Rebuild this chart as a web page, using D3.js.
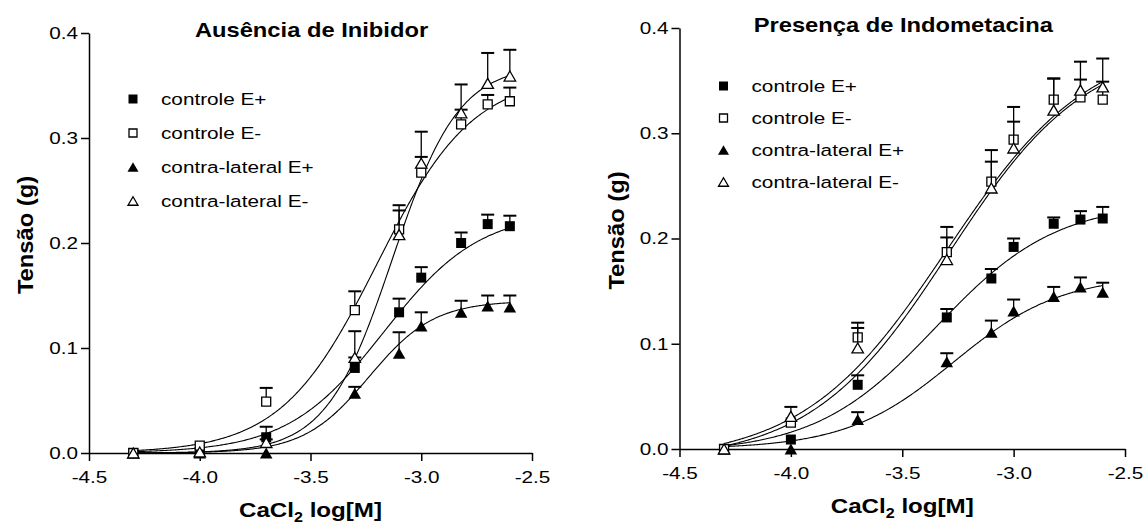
<!DOCTYPE html>
<html lang="pt">
<head>
<meta charset="UTF-8">
<script src="https://d3js.org/d3.v7.min.js"></script>
<title>CaCl2 - curvas de tensão</title>
<style>
  body { margin: 0; background: #fff; }
  svg { display: block; font-family: "Liberation Sans", Arial, sans-serif; }
  .axis path, .axis line { stroke: #000; stroke-width: 1.5; }
</style>
</head>
<body>
<svg id="chart" width="1145" height="525"></svg>
<script>
// x values: CaCl2 log[M]
const logConc = [-4.3, -4.0, -3.7, -3.3, -3.1, -3.0, -2.82, -2.7, -2.6];
const xTicks = [-4.5, -4.0, -3.5, -3.0, -2.5];
const yTicks = [0.0, 0.1, 0.2, 0.3, 0.4];
const seriesNames = ['controle E+', 'controle E-', 'contra-lateral E+', 'contra-lateral E-'];
const panelTitles = ['Ausência de Inibidor', 'Presença de Indometacina'];

// Ausência de Inibidor (mean, upper SEM)
const ausCtrlPos      = [0, 0.001, 0.015, 0.081, 0.134, 0.167, 0.200, 0.218, 0.216];
const ausCtrlPosErr   = [0, 0, 0.010, 0.010, 0.013, 0.010, 0.010, 0.009, 0.010];
const ausCtrlNeg      = [0, 0.007, 0.049, 0.136, 0.213, 0.267, 0.313, 0.332, 0.335];
const ausCtrlNegErr   = [0, 0, 0.013, 0.018, 0.018, 0.015, 0.014, 0.009, 0.013];
const ausContraPos    = [0, 0, 0, 0.057, 0.095, 0.121, 0.134, 0.140, 0.139];
const ausContraPosErr = [0, 0, 0, 0.006, 0.020, 0.013, 0.011, 0.010, 0.011];
const ausContraNeg    = [0, 0.001, 0.010, 0.091, 0.208, 0.276, 0.324, 0.352, 0.359];
const ausContraNegErr = [0, 0, 0.003, 0.025, 0.028, 0.030, 0.027, 0.029, 0.025];

// Presença de Indometacina
const indCtrlPos      = [0, 0.009, 0.061, 0.125, 0.162, 0.192, 0.214, 0.218, 0.219];
const indCtrlPosErr   = [0, 0, 0.009, 0.008, 0.009, 0.008, 0.006, 0.008, 0.011];
const indCtrlNeg      = [0, 0.025, 0.106, 0.187, 0.254, 0.294, 0.332, 0.334, 0.332];
const indCtrlNegErr   = [0, 0, 0.009, 0.014, 0.019, 0.017, 0.020, 0.017, 0.017];
const indContraPos    = [0, 0, 0.028, 0.083, 0.111, 0.131, 0.145, 0.154, 0.149];
const indContraPosErr = [0, 0, 0.007, 0.008, 0.011, 0.011, 0.009, 0.009, 0.009];
const indContraNeg    = [0, 0.031, 0.096, 0.180, 0.248, 0.286, 0.322, 0.341, 0.344];
const indContraNegErr = [0, 0.009, 0.024, 0.031, 0.036, 0.039, 0.030, 0.027, 0.027];

// sigmoidal fits: [bottom, top, logEC50, hill slope]
const ausFits = [[0, 0.23, -3.17, 2.0], [0, 0.36, -3.2, 2.0], [0, 0.145, -3.236, 2.96], [0, 0.37, -3.13, 2.9]];
const indFits = [[-0.004, 0.235, -3.35, 1.6], [-0.012, 0.39, -3.3, 1.35], [0, 0.165, -3.27, 1.8], [-0.012, 0.385, -3.29, 1.4]];

const shapes = [['square', true], ['square', false], ['triangle', true], ['triangle', false]];

const svg = d3.select('#chart');
const tickSX = 1.22;   // the original lettering is wider than Arial

const panels = [
  {title: panelTitles[0], x0: 89, x1: 532, y0: 453, y1: 33, legY: 99, legStep: 34,
   values: [ausCtrlPos, ausCtrlNeg, ausContraPos, ausContraNeg],
   errors: [ausCtrlPosErr, ausCtrlNegErr, ausContraPosErr, ausContraNegErr],
   fits: ausFits},
  {title: panelTitles[1], x0: 679.5, x1: 1125, y0: 449, y1: 28, legY: 86, legStep: 32,
   values: [indCtrlPos, indCtrlNeg, indContraPos, indContraNeg],
   errors: [indCtrlPosErr, indCtrlNegErr, indContraPosErr, indContraNegErr],
   fits: indFits}
];

function hill(f, xv) {
  return f[0] + (f[1] - f[0]) / (1 + Math.pow(10, (f[2] - xv) * f[3]));
}

function markerPath(shape, w, h) {
  if (shape === 'square') return `M${-w/2},${-h/2}H${w/2}V${h/2}H${-w/2}Z`;
  return `M0,${-h/2}L${w/2},${h/2}L${-w/2},${h/2}Z`;
}

function drawMarker(g, shape, filled, cx, cy, big) {
  let w, h;
  if (shape === 'square') { w = h = filled ? (big ? 10 : 9) : (big ? 9 : 8); }
  else { w = filled ? (big ? 12.5 : 11) : (big ? 11.5 : 10); h = filled ? (big ? 11 : 9.5) : (big ? 10 : 8.5); }
  g.append('path')
    .attr('transform', `translate(${cx},${cy})`)
    .attr('d', markerPath(shape, w, h))
    .attr('fill', filled ? '#000' : '#fff')
    .attr('stroke', filled ? 'none' : '#000')
    .attr('stroke-width', 1.3);
}

function addText(g, x, y, str, size, sx, opts = {}) {
  return g.append('text')
    .attr('transform', `translate(${x},${y})${opts.rotate ? ' rotate(-90)' : ''} scale(${sx},1)`)
    .attr('text-anchor', opts.anchor || 'start')
    .style('font-size', size + 'px')
    .style('font-weight', opts.bold ? 'bold' : 'normal')
    .text(str);
}

panels.forEach(p => {
  const g = svg.append('g');
  const x = d3.scaleLinear().domain([-4.5, -2.5]).range([p.x0, p.x1]);
  const y = d3.scaleLinear().domain([0, 0.4]).range([p.y0, p.y1]);
  const cx = (p.x0 + p.x1) / 2;

  // axes
  const xAxis = g.append('g').attr('class', 'axis')
    .attr('transform', `translate(0,${p.y0})`)
    .call(d3.axisBottom(x).tickValues(xTicks).tickFormat(d => d.toFixed(1))
      .tickSize(8).tickSizeOuter(0).tickPadding(10));
  const yAxis = g.append('g').attr('class', 'axis')
    .attr('transform', `translate(${p.x0},0)`)
    .call(d3.axisLeft(y).tickValues(yTicks).tickFormat(d => d.toFixed(1))
      .tickSize(8).tickSizeOuter(0).tickPadding(3));
  [xAxis, yAxis].forEach(a => a.attr('font-size', null).attr('font-family', null)
    .selectAll('text').style('font-size', '17px').style('fill', '#000')
    .attr('transform', `scale(${tickSX},1)`));
  yAxis.selectAll('text').attr('x', -11 / tickSX);

  // titles
  addText(g, cx + 1, p.y1 + 4, p.title, 21, 1.13, {anchor: 'middle', bold: true});
  addText(g, p.x0 - 56, (p.y0 + p.y1) / 2 - 8, 'Tensão (g)', 22, 1.08, {anchor: 'middle', bold: true, rotate: true});
  const xl = g.append('text')
    .attr('transform', `translate(${cx},${p.y0 + 64}) scale(1.15,1)`)
    .attr('text-anchor', 'middle')
    .style('font-size', '21px').style('font-weight', 'bold');
  xl.append('tspan').text('CaCl');
  xl.append('tspan').attr('dy', 5).style('font-size', '14px').text('2');
  xl.append('tspan').attr('dy', -5).text(' log[M]');

  // fitted curves
  const xs = d3.range(logConc[0], logConc[logConc.length - 1] + 0.001, 0.005);
  const line = d3.line().x(d => x(d[0])).y(d => y(d[1]));
  p.fits.forEach(f => {
    g.append('path')
      .attr('d', line(xs.map(v => [v, hill(f, v)])))
      .attr('fill', 'none').attr('stroke', '#000').attr('stroke-width', 1.1);
  });

  // error bars + markers
  p.values.forEach((vals, si) => {
    const errs = p.errors[si];
    const [shape, filled] = shapes[si];
    const sg = g.append('g');
    vals.forEach((v, i) => {
      const e = errs[i];
      if (e <= 0) return;
      const px = x(logConc[i]);
      sg.append('line').attr('x1', px).attr('x2', px)
        .attr('y1', y(v)).attr('y2', y(v + e))
        .attr('stroke', '#000').attr('stroke-width', 1.3);
      sg.append('line').attr('x1', px - 6.5).attr('x2', px + 6.5)
        .attr('y1', y(v + e)).attr('y2', y(v + e))
        .attr('stroke', '#000').attr('stroke-width', 2);
    });
    vals.forEach((v, i) => drawMarker(sg, shape, filled, x(logConc[i]), y(v), true));
  });

  // legend
  seriesNames.forEach((name, i) => {
    const ly = p.legY + i * p.legStep;
    drawMarker(g, shapes[i][0], shapes[i][1], p.x0 + 44, ly, false);
    addText(g, p.x0 + 72, ly + 6, name, 17, tickSX);
  });
});
</script>
</body>
</html>
